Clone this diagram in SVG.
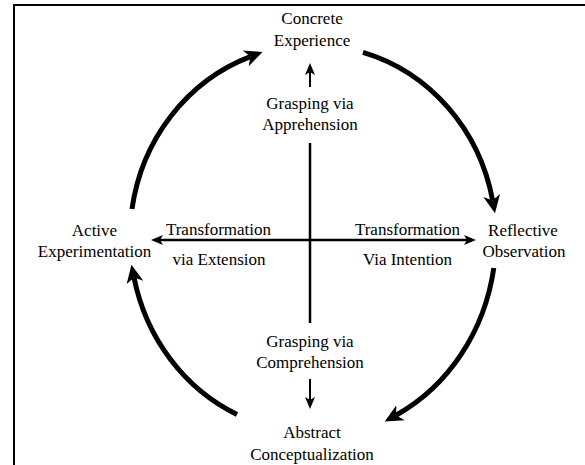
<svg xmlns="http://www.w3.org/2000/svg" width="585" height="465" viewBox="0 0 585 465">
  <style>
    text { font-family: "Liberation Serif", "Times New Roman", serif; font-size: 17px; fill: #000; text-anchor: middle; }
    .cycle { fill: none; stroke: #000; stroke-width: 5; }
    .axis { fill: none; stroke: #000; stroke-width: 2.5; }
    .tick { fill: none; stroke: #000; stroke-width: 2; }
    .frame { fill: none; stroke: #000; stroke-width: 2; }
  </style>
  <defs>
    <!-- large barbed head for the cycle arcs -->
    <marker id="bigHead" markerUnits="userSpaceOnUse" markerWidth="20" markerHeight="20" viewBox="0 -10 20 20" refX="5" refY="0" orient="auto">
      <path d="M0,-8.5 L18,0 L0,8.5 L5,0 z" fill="#000"/>
    </marker>
    <!-- small barbed head for the axes -->
    <marker id="axisHead" markerUnits="userSpaceOnUse" markerWidth="16" markerHeight="14" viewBox="0 -7 16 14" refX="3" refY="0" orient="auto-start-reverse">
      <path d="M0,-5 L12,0 L0,5 L3,0 z" fill="#000"/>
    </marker>
  </defs>

  <!-- frame -->
  <path class="frame" d="M14,465 V5 H585"/>

  <g id="connectors">
    <!-- cycle arcs -->
    <path class="cycle" d="M132,209 A183,192 0 0,1 250.4,56.6" marker-end="url(#bigHead)"/>
    <path class="cycle" d="M363,52.3 A183,192 0 0,1 492.6,200.4" marker-end="url(#bigHead)"/>
    <path class="cycle" d="M493.8,268 A183,200 0 0,1 396.1,415.2" marker-end="url(#bigHead)"/>
    <path class="cycle" d="M237,414.4 A183,195 0 0,1 134,277.5" marker-end="url(#bigHead)"/>
    <!-- axes -->
    <path class="axis" d="M310,143 V323"/>
    <path class="axis" d="M160,240 H467" marker-start="url(#axisHead)" marker-end="url(#axisHead)"/>
    <!-- short grasping arrows -->
    <path class="tick" d="M310,87 V72" marker-end="url(#axisHead)"/>
    <path class="tick" d="M310,379 V400" marker-end="url(#axisHead)"/>
  </g>

  <g id="concrete-experience">
    <text x="312" y="24">Concrete</text>
    <text x="312" y="46">Experience</text>
  </g>
  <g id="reflective-observation">
    <text x="523" y="236">Reflective</text>
    <text x="524" y="257">Observation</text>
  </g>
  <g id="abstract-conceptualization">
    <text x="312" y="438">Abstract</text>
    <text x="312" y="460">Conceptualization</text>
  </g>
  <g id="active-experimentation">
    <text x="94.5" y="236">Active</text>
    <text x="94.5" y="257">Experimentation</text>
  </g>
  <g id="grasping-apprehension">
    <text x="310" y="109">Grasping via</text>
    <text x="310" y="130">Apprehension</text>
  </g>
  <g id="grasping-comprehension">
    <text x="310" y="347">Grasping via</text>
    <text x="310" y="368">Comprehension</text>
  </g>
  <g id="transformation-extension">
    <text x="218.5" y="235">Transformation</text>
    <text x="219" y="265">via Extension</text>
  </g>
  <g id="transformation-intention">
    <text x="407.5" y="235">Transformation</text>
    <text x="407.5" y="265">Via Intention</text>
  </g>
</svg>
